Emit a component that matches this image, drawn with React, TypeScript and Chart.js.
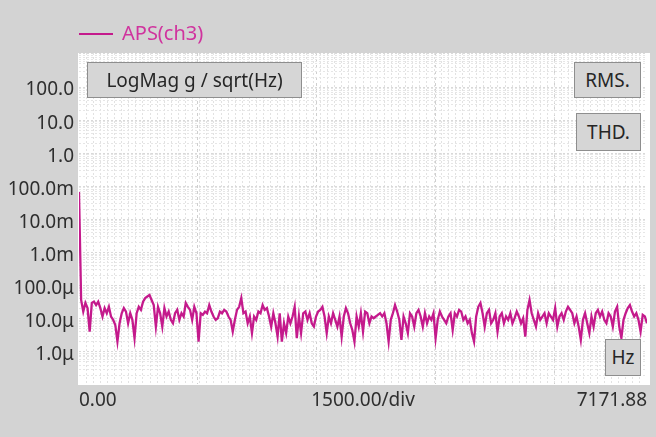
import { useEffect, useRef } from "react";
import { Chart, registerables, type ChartOptions } from "chart.js";

Chart.register(...registerables);

// APS(ch3) magnitude, in µg/√Hz left to right
const dcBinG = 0.068; // the 0 Hz bin, in g/√Hz
const apsLowBand = [
  37, 16.5, 30, 21, 4.1, 30, 33, 26, 33, 21, 11.7, 21, 14.7, 23, 11.7, 9.3, 6.5, 2.05, 7.3, 14.7, 21, 16.5, 7.3, 14.7,
  9.3, 2.6, 14.7, 23, 18.6, 33, 42, 47, 52, 37, 26, 5.8, 23, 14.7, 5.8, 21, 11.7, 16.5, 9.3, 7.3, 14.7, 18.6, 9.3, 14.7,
  11.7, 30, 23, 18.6, 9.3, 23, 14.7, 2.05, 14.7, 13.1, 16.5, 14.7, 26, 16.5, 11.7, 9.3, 10.4
];
const apsMidLowBand = [
  16.5, 14.7, 18.6, 16.5, 11.7, 9.3, 4.1, 9.3, 18.6, 23, 42, 14.7, 16.5, 7.3, 11.7, 3.7, 11.7, 9.3, 16.5, 14.7, 26, 18.6,
  21, 11.7, 5.8, 14.7, 7.3, 2.9, 14.7, 2.05, 7.3, 3.7, 11.7, 7.3, 11.7, 23, 2.6, 11.7, 3.7, 14.7, 16.5, 9.3, 14.7, 7.3,
  5.8, 11.7, 16.5, 18.6, 23, 11.7, 3.7, 11.7, 7.3, 14.7, 9.3, 5.8, 11.7, 2.9, 11.7, 21, 14.7, 7.3, 4.6, 2.05, 11.7, 5.8
];
const apsMidHighBand = [
  14.7, 4.1, 16.5, 14.7, 7.3, 11.7, 10.4, 11.7, 13.1, 14.7, 11.7, 14.7, 7.3, 2.05, 9.3, 14.7, 26, 16.5, 9.3, 2.3, 11.7,
  7.3, 3.7, 14.7, 11.7, 5.8, 14.7, 18.6, 11.7, 5.8, 14.7, 7.3, 11.7, 9.3, 14.7, 2.6, 9.3, 16.5, 11.7, 9.3, 7.3, 11.7,
  14.7, 4.6, 14.7, 11.7, 18.6, 16.5, 9.3, 11.7, 7.3, 9.3, 3.7, 2.05, 11.7, 23, 30, 14.7, 5.8, 14.7, 18.6, 7.3, 9.3, 14.7,
  4.1, 11.7, 14.7, 7.3, 11.7, 9.3
];
const apsHighBand = [
  14.7, 7.3, 10.4, 16.5, 11.7, 7.3, 10.4, 2.9, 18.6, 37, 14.7, 9.3, 5.8, 14.7, 9.3, 11.7, 14.7, 7.3, 14.7, 11.7, 9.3, 21,
  5.8, 11.7, 14.7, 9.3, 16.5, 23, 18.6, 14.7, 7.3, 11.7, 5.8, 2.3, 9.3, 14.7, 7.3, 3.7, 11.7, 5.8, 14.7, 18.6, 11.7,
  16.5, 9.3, 7.3, 14.7, 11.7, 5.8, 16.5, 23, 5.8, 2.6, 9.3, 14.7, 21, 26, 16.5, 11.7, 14.7, 9.3, 4.1, 13.1, 11.7, 7.3
];

const spanHz = 7171.88;
const divHz = 1500;
const minorDivs = 80;
const xLabels = { start: "0.00", mid: "1500.00/div", end: "7171.88" };

const yMin = 1.07e-7;
const yMax = 1.07e3;
const yTickValues = [1e2, 1e1, 1, 1e-1, 1e-2, 1e-3, 1e-4, 1e-5, 1e-6];
const yTickLabels = ["100.0", "10.0", "1.0", "100.0m", "10.0m", "1.0m", "100.0μ", "10.0μ", "1.0μ"];

const traceColor = "#c41a8c";
const font = "'Noto Sans', sans-serif";

const plotBackground = {
  id: "plotBackground",
  beforeDraw(chart: Chart) {
    const { ctx, chartArea } = chart;
    ctx.save();
    ctx.fillStyle = "#ffffff";
    ctx.fillRect(chartArea.left - 1, chartArea.top, chartArea.right - chartArea.left + 4, chartArea.bottom - chartArea.top + 1);
    ctx.restore();
  }
};

function ApsChart() {
  const canvasRef = useRef<HTMLCanvasElement | null>(null);
  const chartRef = useRef<Chart | null>(null);

  useEffect(() => {
    if (!canvasRef.current) return;
    chartRef.current?.destroy();

    const magnitudes = [dcBinG, ...[...apsLowBand, ...apsMidLowBand, ...apsMidHighBand, ...apsHighBand].map((v) => v * 1e-6)];
    const binHz = spanHz / (magnitudes.length - 1);
    const points = magnitudes.map((y, i) => ({ x: i * binHz, y }));
    const mid = spanHz / 2;
    const isMajor = (v: number) => v > 0 && v < spanHz && Math.abs(v / divHz - Math.round(v / divHz)) < 1e-9;

    const options: ChartOptions<"line"> = {
      responsive: false,
      animation: false,
      layout: { padding: { top: 53, right: 9, left: 0, bottom: 0 } },
      plugins: { legend: { display: false }, tooltip: { enabled: false } },
      scales: {
        x: {
          type: "linear",
          min: 0,
          max: spanHz,
          afterFit: (s) => {
            s.height = 53;
          },
          afterBuildTicks: (s) => {
            const vals: number[] = [];
            for (let k = 0; k <= minorDivs; k++) vals.push((spanHz * k) / minorDivs);
            for (let v = divHz; v < spanHz; v += divHz) vals.push(v);
            vals.sort((a, b) => a - b);
            s.ticks = vals.map((value) => ({ value }));
          },
          border: {
            display: false,
            dash: (c: any) => (isMajor(c.tick?.value) ? [3, 3] : [2, 2])
          },
          grid: {
            drawTicks: false,
            lineWidth: 1,
            color: (c: any) => {
              const v = c.tick?.value ?? 0;
              if (v <= 0 || v >= spanHz) return "rgba(0,0,0,0)";
              return isMajor(v) ? "#cfcfcf" : "#e2e2e2";
            }
          },
          ticks: {
            autoSkip: false,
            maxRotation: 0,
            align: "inner",
            padding: 5,
            color: "#2e2e2e",
            font: { family: font, size: 19 },
            callback: (value) => {
              const v = Number(value);
              if (v === 0) return xLabels.start;
              if (Math.abs(v - spanHz) < 1e-6) return xLabels.end;
              if (Math.abs(v - mid) < 1e-6) return xLabels.mid;
              return "";
            }
          }
        },
        y: {
          type: "logarithmic",
          min: yMin,
          max: yMax,
          afterFit: (s) => {
            s.width = 79;
          },
          afterBuildTicks: (s) => {
            const vals: number[] = [];
            for (let e = -7; e <= 2; e++) for (let k = 1; k <= 9; k++) vals.push(k * Math.pow(10, e));
            vals.push(1e3);
            s.ticks = vals.filter((v) => v > yMin && v < yMax).map((value) => ({ value }));
          },
          border: {
            display: false,
            dash: [2, 2]
          },
          grid: {
            drawTicks: false,
            color: (c: any) => {
              const v = c.tick?.value ?? 0;
              const lg = Math.log10(v);
              return Math.abs(lg - Math.round(lg)) < 1e-6 ? "#d9d9d9" : "#e6e6e6";
            }
          },
          ticks: {
            autoSkip: false,
            padding: 5,
            labelOffset: 3,
            color: "#2e2e2e",
            font: { family: font, size: 19 },
            callback: (value) => {
              const v = Number(value);
              const idx = yTickValues.findIndex((t) => Math.abs(v / t - 1) < 1e-6);
              return idx >= 0 ? yTickLabels[idx] : "";
            }
          }
        }
      }
    };

    chartRef.current = new Chart(canvasRef.current, {
      type: "line",
      data: {
        datasets: [
          {
            label: "APS(ch3)",
            data: points,
            borderColor: traceColor,
            backgroundColor: traceColor,
            borderWidth: 2.3,
            pointRadius: 0,
            tension: 0,
            fill: false
          }
        ]
      },
      options,
      plugins: [plotBackground]
    });
    return () => {
      chartRef.current?.destroy();
      chartRef.current = null;
    };
  }, []);

  return <canvas ref={canvasRef} width={656} height={437} style={{ position: "absolute", left: 0, top: 0 }} />;
}

const boxStyle: React.CSSProperties = {
  position: "absolute",
  boxSizing: "border-box",
  background: "#d6d6d6",
  border: "1.5px solid #8e8e8e",
  color: "#262626",
  fontFamily: font,
  fontSize: 19,
  display: "flex",
  alignItems: "center",
  justifyContent: "center",
  lineHeight: 1
};

export default function App() {
  return (
    <div
      style={{
        position: "fixed",
        left: 0,
        top: 0,
        width: 656,
        height: 437,
        background: "#d3d3d3",
        overflow: "hidden"
      }}
    >
      <ApsChart />
      <div style={{ position: "absolute", left: 79, top: 33, width: 34, height: 2, background: traceColor }} />
      <div
        style={{
          position: "absolute",
          left: 122,
          top: 20,
          fontFamily: font,
          fontSize: 20,
          lineHeight: "26px",
          color: "#d0339e"
        }}
      >
        APS(ch3)
      </div>
      <div style={{ ...boxStyle, left: 87, top: 62, width: 215, height: 36 }}>LogMag g / sqrt(Hz)</div>
      <div style={{ ...boxStyle, left: 574, top: 62, width: 67, height: 36 }}>RMS.</div>
      <div style={{ ...boxStyle, left: 576, top: 113, width: 65, height: 38 }}>THD.</div>
      <div style={{ ...boxStyle, left: 605, top: 339, width: 36, height: 37 }}>Hz</div>
    </div>
  );
}
